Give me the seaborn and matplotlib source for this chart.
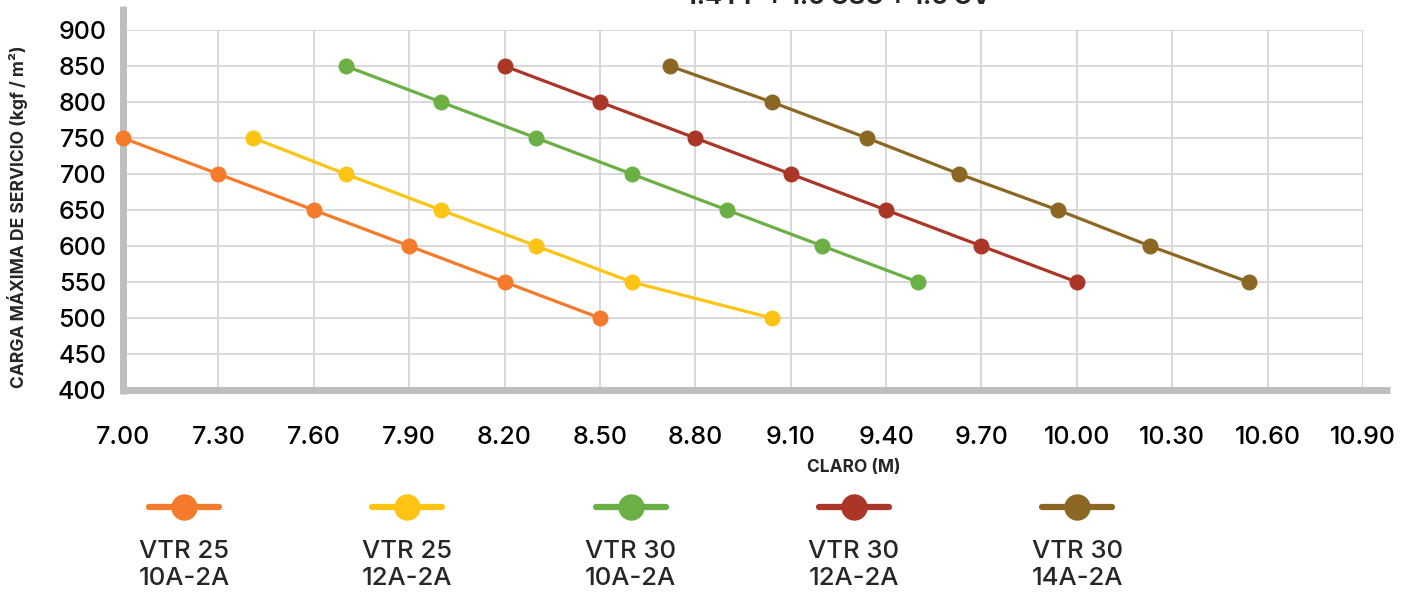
import numpy as np
import pandas as pd
import matplotlib
matplotlib.use("Agg")
import matplotlib.pyplot as plt
from matplotlib.lines import Line2D
import seaborn as sns

# series
series_names = ["VTR 25\n10A-2A", "VTR 25\n12A-2A", "VTR 30\n10A-2A", "VTR 30\n12A-2A", "VTR 30\n14A-2A"]
series_colors = ["#F47B2B", "#FDC414", "#6AB045", "#AA3628", "#8C6723"]

claro_vtr25_10 = [7.00, 7.30, 7.60, 7.90, 8.20, 8.50]
carga_vtr25_10 = [750, 700, 650, 600, 550, 500]

claro_vtr25_12 = [7.41, 7.70, 8.00, 8.30, 8.60, 9.04]
carga_vtr25_12 = [750, 700, 650, 600, 550, 500]

claro_vtr30_10 = [7.70, 8.00, 8.30, 8.60, 8.90, 9.20, 9.50]
carga_vtr30_10 = [850, 800, 750, 700, 650, 600, 550]

claro_vtr30_12 = [8.20, 8.50, 8.80, 9.10, 9.40, 9.70, 10.00]
carga_vtr30_12 = [850, 800, 750, 700, 650, 600, 550]

claro_vtr30_14 = [8.72, 9.04, 9.34, 9.63, 9.94, 10.23, 10.54]
carga_vtr30_14 = [850, 800, 750, 700, 650, 600, 550]

x_ticks = [7.00, 7.30, 7.60, 7.90, 8.20, 8.50, 8.80, 9.10, 9.40, 9.70, 10.00, 10.30, 10.60, 10.90]
y_ticks = [400, 450, 500, 550, 600, 650, 700, 750, 800, 850, 900]

claros = [claro_vtr25_10, claro_vtr25_12, claro_vtr30_10, claro_vtr30_12, claro_vtr30_14]
cargas = [carga_vtr25_10, carga_vtr25_12, carga_vtr30_10, carga_vtr30_12, carga_vtr30_14]

frames = []
for name, xs, ys in zip(series_names, claros, cargas):
    frames.append(pd.DataFrame({"claro": xs, "carga": ys, "serie": name}))
df = pd.concat(frames, ignore_index=True)

sns.set_theme(style="white")
plt.rcParams["font.family"] = ["Inter", "DejaVu Sans"]

W, H = 1415, 594
fig = plt.figure(figsize=(W / 100, H / 100), dpi=100)
ax = fig.add_axes([123 / W, 1 - 390 / H, (1363 - 123) / W, (390 - 30) / H])

sns.lineplot(data=df, x="claro", y="carga", hue="serie", hue_order=series_names,
             palette=series_colors, marker="o", markersize=11.5, markeredgewidth=0,
             linewidth=2.3, legend=False, ax=ax, zorder=4)
for ln in ax.lines:
    ln.set_clip_on(False)

ax.set_xlim(7.0, 10.9)
ax.set_ylim(400, 900)
ax.set_xticks(x_ticks)
ax.set_xticklabels([f"{v:.2f}" for v in x_ticks])
ax.set_yticks(y_ticks)
ax.grid(True, color="#D6D6D6", linewidth=1.3)
ax.set_axisbelow(True)
ax.tick_params(axis="both", length=0, labelsize=18, colors="black")
ax.tick_params(axis="x", pad=26)
ax.tick_params(axis="y", pad=12)
for lbl in ax.get_xticklabels() + ax.get_yticklabels():
    lbl.set_fontweight("medium")
ax.set_xlabel("")
ax.set_ylabel("")

for side in ["top", "right", "left", "bottom"]:
    ax.spines[side].set_visible(False)

# thick gray axes, extending past the grid like the original
axis_gray = "#BEBEBE"
ax.plot([0, 0], [-0.012, 1.067], transform=ax.transAxes, color=axis_gray,
        linewidth=5, clip_on=False, zorder=3, solid_capstyle="butt")
ax.plot([-0.002, 1.022], [0, 0], transform=ax.transAxes, color=axis_gray,
        linewidth=5, clip_on=False, zorder=3, solid_capstyle="butt")

fig.text(854 / W, 1 - 468 / H, "CLARO (M)", ha="center", va="center",
         fontsize=12.5, fontweight="bold")
fig.text(18 / W, 1 - 217 / H, "CARGA MÁXIMA DE SERVICIO (kgf / m²)", ha="center",
         va="center", rotation=90, fontsize=12.6, fontweight="bold")

# title cut off at the top of the image
fig.text(838 / W, 1 - 4 / H, "1.4 PP + 1.6 CSC + 1.6 CV", ha="center",
         va="baseline", fontsize=18, fontweight="bold")

# legend: handle on top, two-line label below
for i, (name, col) in enumerate(zip(series_names, series_colors)):
    cx = 184 + 223.3 * i
    fig.add_artist(Line2D([(cx - 35) / W, (cx + 35) / W], [1 - 507 / H, 1 - 507 / H],
                          transform=fig.transFigure, color=col, linewidth=4.5,
                          solid_capstyle="round"))
    fig.add_artist(Line2D([cx / W], [1 - 507 / H], transform=fig.transFigure,
                          color=col, marker="o", markersize=19, markeredgewidth=0,
                          linestyle="none"))
    fig.text(cx / W, 1 - 540 / H, name, ha="center", va="top", fontsize=18.5,
             fontweight="medium", linespacing=1.2)

fig.savefig("out.png", dpi=100)
